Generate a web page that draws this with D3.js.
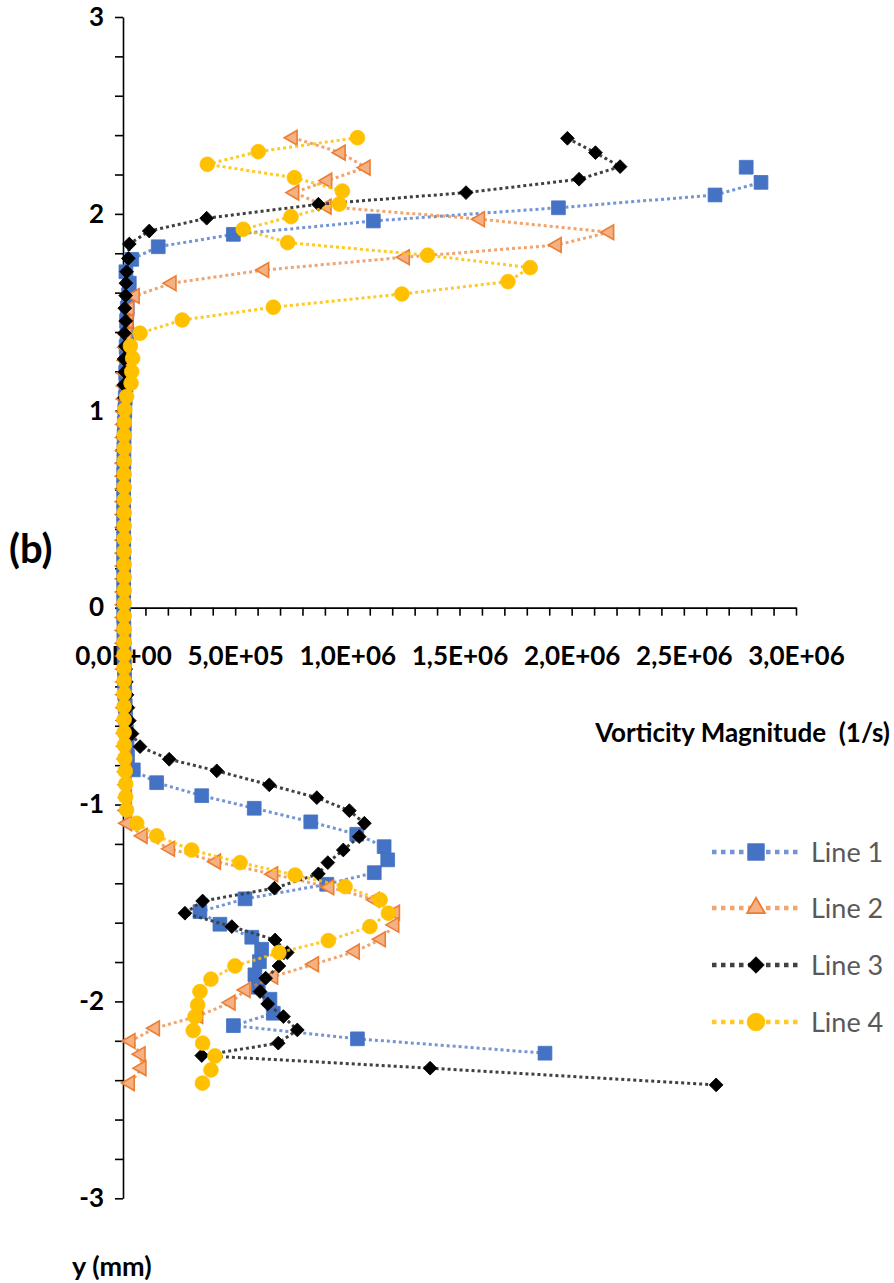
<!DOCTYPE html>
<html>
<head>
<meta charset="utf-8">
<script src="https://cdn.jsdelivr.net/npm/d3@7"></script>
<style>
  html, body { margin: 0; padding: 0; background: #ffffff; }
  svg { display: block; }
  text { font-family: Lato, "Open Sans", "DejaVu Sans", sans-serif; }
</style>
</head>
<body>
<svg id="chart" width="894" height="1283"></svg>
<script>
// ---------------- DATA ----------------
const seriesNames = ["Line 1", "Line 2", "Line 3", "Line 4"];

const xTickLabels = ["0,0E+00", "5,0E+05", "1,0E+06", "1,5E+06", "2,0E+06", "2,5E+06", "3,0E+06"];
const xTickValues = [0, 5e5, 1e6, 1.5e6, 2e6, 2.5e6, 3e6];
const yTickLabels = ["-3", "-2", "-1", "0", "1", "2", "3"];
const yTickValues = [-3, -2, -1, 0, 1, 2, 3];

// Line 1 (y in mm, vorticity in 1e6 1/s)
const line1Y = [2.237, 2.160, 2.096, 2.031, 1.964, 1.896, 1.833, 1.769, 1.706, 1.648, 1.588, 1.521,
  1.456, 1.391, 1.326, 1.261, 1.195, 1.130, 1.065, 1.000, 0.935, 0.870, 0.805, 0.739, 0.674, 0.609,
  0.544, 0.479, 0.414, 0.349, 0.284, 0.218, 0.153, 0.088, 0.023, -0.042, -0.107, -0.172, -0.238,
  -0.303, -0.368, -0.433, -0.498, -0.563, -0.628, -0.694, -0.759,
  -0.824, -0.889, -0.955, -1.019, -1.088, -1.151, -1.214, -1.281, -1.346, -1.405, -1.479, -1.544,
  -1.608, -1.674, -1.735, -1.798, -1.865, -1.928, -1.989, -2.060, -2.123, -2.190, -2.263];
const line1V = [2.778, 2.844, 2.639, 1.941, 1.116, 0.492, 0.157, 0.039, 0.013, 0.028, 0.024, 0.019,
  0.016, 0.018, 0.014, 0.016, 0.012, 0.013, 0.010, 0.008, 0.006, 0.005, 0.004, 0.004, 0.003, 0.003,
  0.003, 0.003, 0.003, 0.003, 0.003, 0.003, 0.003, 0.003, 0.003, 0.003, 0.004, 0.004, 0.005,
  0.006, 0.007, 0.008, 0.010, 0.012, 0.015, 0.018, 0.020,
  0.046, 0.150, 0.351, 0.585, 0.837, 1.042, 1.164, 1.180, 1.120, 0.908, 0.544, 0.343,
  0.432, 0.574, 0.618, 0.608, 0.588, 0.603, 0.655, 0.670, 0.492, 1.045, 1.881];

// Line 2
const line2Y = [2.387, 2.311, 2.235, 2.169, 2.108, 2.037, 1.973, 1.907, 1.842, 1.780, 1.715, 1.648, 1.583,
  1.518, 1.452, 1.387, 1.322, 1.256, 1.191, 1.126, 1.060, 0.995, 0.930, 0.864, 0.799, 0.734, 0.668,
  0.603, 0.538, 0.472, 0.407, 0.342, 0.276, 0.211, 0.146, 0.080, 0.015, -0.050, -0.116, -0.181,
  -0.246, -0.312, -0.377, -0.442, -0.508, -0.573, -0.638, -0.704, -0.769, -0.834, -0.900, -0.965, -1.030,
  -1.095, -1.159, -1.225, -1.290, -1.354, -1.420, -1.484, -1.549, -1.611, -1.684, -1.747, -1.811,
  -1.874, -1.942, -2.006, -2.074, -2.136, -2.201, -2.268, -2.339, -2.415];
const line2V = [0.757, 0.971, 1.082, 0.911, 0.764, 0.908, 1.592, 2.168, 1.934, 1.257, 0.630, 0.217, 0.053,
  0.028, 0.024, 0.018, 0.014, 0.012, 0.010, 0.009, 0.008, 0.007, 0.006, 0.005, 0.005, 0.004, 0.004,
  0.004, 0.004, 0.004, 0.004, 0.004, 0.004, 0.004, 0.004, 0.004, 0.004, 0.004, 0.004, 0.004,
  0.005, 0.005, 0.006, 0.006, 0.007, 0.008, 0.009, 0.010, 0.012, 0.014, 0.016, 0.018, 0.016,
  0.019, 0.088, 0.210, 0.415, 0.670, 0.920, 1.123, 1.213, 1.210, 1.150, 1.034, 0.852,
  0.670, 0.547, 0.480, 0.336, 0.143, 0.034, 0.079, 0.083, 0.031];

// Line 3
const line3Y = [2.384, 2.311, 2.240, 2.176, 2.108, 2.049, 1.978, 1.913, 1.847, 1.774, 1.706, 1.648,
  1.585, 1.521, 1.456, 1.394, 1.328, 1.263, 1.197, 1.132, 1.066, 1.000, 0.935, 0.869, 0.804, 0.738,
  0.672, 0.607, 0.541, 0.476, 0.410, 0.344, 0.279, 0.213, 0.148, 0.082, 0.016, -0.049, -0.115,
  -0.181, -0.246, -0.312, -0.377, -0.443, -0.508, -0.574, -0.640,
  -0.706, -0.770, -0.829, -0.900, -0.965, -1.031, -1.095, -1.163, -1.231, -1.295, -1.352, -1.425,
  -1.490, -1.552, -1.620, -1.688, -1.752, -1.820, -1.882, -1.950, -2.013, -2.077, -2.145, -2.212,
  -2.275, -2.339, -2.424];
const line3V = [1.981, 2.106, 2.216, 2.033, 1.529, 0.871, 0.373, 0.117, 0.028, 0.024, 0.016, 0.013,
  0.012, 0.008, 0.012, 0.006, 0.010, 0.005, 0.008, 0.004, 0.006, 0.003, 0.003, 0.002, 0.002, 0.002,
  0.002, 0.002, 0.002, 0.002, 0.002, 0.002, 0.002, 0.002, 0.002, 0.002, 0.002, 0.003, 0.004,
  0.006, 0.008, 0.012, 0.015, 0.018, 0.022, 0.028, 0.040,
  0.076, 0.206, 0.418, 0.652, 0.864, 1.009, 1.076, 1.053, 0.982, 0.913, 0.871, 0.675,
  0.355, 0.276, 0.485, 0.678, 0.732, 0.695, 0.636, 0.611, 0.645, 0.715, 0.777, 0.692,
  0.351, 1.369, 2.644];

// Line 4
const line4Y = [2.387, 2.316, 2.252, 2.184, 2.116, 2.050, 1.986, 1.922, 1.854, 1.790, 1.727, 1.656,
  1.593, 1.526, 1.461, 1.394, 1.329, 1.267, 1.199, 1.140, 1.072,
  1.006, 0.941, 0.875, 0.810, 0.744, 0.678, 0.613, 0.547, 0.482, 0.416, 0.350, 0.285, 0.219, 0.154,
  0.088, 0.022, -0.043, -0.109, -0.174, -0.240, -0.306, -0.371, -0.437, -0.502, -0.568, -0.634,
  -0.699, -0.765, -0.830, -0.896, -0.961, -1.027,
  -1.095, -1.159, -1.231, -1.295, -1.358, -1.417, -1.484, -1.552, -1.620, -1.691, -1.752, -1.820,
  -1.887, -1.950, -2.018, -2.077, -2.148, -2.212, -2.277, -2.348, -2.415];
const line4V = [1.045, 0.603, 0.376, 0.764, 0.978, 0.964, 0.749, 0.536, 0.734, 1.358, 1.815, 1.716,
  1.243, 0.670, 0.264, 0.076, 0.033, 0.043, 0.039, 0.036, 0.016,
  0.008, 0.006, 0.005, 0.005, 0.005, 0.005, 0.005, 0.005, 0.005, 0.005, 0.005, 0.005, 0.005, 0.005,
  0.005, 0.005, 0.005, 0.005, 0.005, 0.005, 0.005, 0.005, 0.005, 0.005, 0.005, 0.005,
  0.006, 0.008, 0.010, 0.012, 0.012, 0.016,
  0.061, 0.150, 0.306, 0.522, 0.767, 0.990, 1.146, 1.183, 1.101, 0.915, 0.695, 0.499,
  0.392, 0.343, 0.333, 0.321, 0.313, 0.355, 0.410, 0.392, 0.354];

const valueUnit = 1e6; // values above are in units of 1e6 1/s

// ---------------- CHART ----------------
const svg = d3.select("#chart");
const x = d3.scaleLinear().domain([0, 3e6]).range([123, 796]);
const y = d3.scaleLinear().domain([-3, 3]).range([1198.3, 17]);

const tickFont = "26px";

// Y axis (ticks every 0.2, labels at integers)
const yMinor = d3.range(-15, 16).map(i => i / 5);
const yAxis = d3.axisLeft(y).tickValues(yMinor).tickSize(8).tickSizeOuter(0)
  .tickFormat(d => {
    const idx = yTickValues.findIndex(v => Math.abs(v - d) < 1e-9);
    return idx >= 0 ? yTickLabels[idx] : "";
  }).tickPadding(11);
const gy = svg.append("g").attr("transform", `translate(${x(0)},0)`).call(yAxis);
gy.select(".domain").attr("stroke", "#000").attr("stroke-width", 1.6);
gy.selectAll(".tick line").attr("stroke", "#000").attr("stroke-width", 1.6);
gy.selectAll(".tick text").attr("fill", "#000").style("font-family", "Lato, sans-serif")
  .style("font-weight", "700").style("font-size", tickFont);

// X axis at y = 0 (ticks every 1e5, labels every 5e5)
const xMinor = d3.range(0, 31).map(i => i * 1e5);
const xAxis = d3.axisBottom(x).tickValues(xMinor).tickSize(8).tickSizeOuter(0)
  .tickFormat(d => {
    const idx = xTickValues.findIndex(v => Math.abs(v - d) < 1);
    return idx >= 0 ? xTickLabels[idx] : "";
  }).tickPadding(31);
const gx = svg.append("g").attr("transform", `translate(0,${y(0)})`).call(xAxis);
gx.select(".domain").attr("stroke", "#000").attr("stroke-width", 1.6);
gx.selectAll(".tick line").attr("stroke", "#000").attr("stroke-width", 1.6);
gx.selectAll(".tick text").attr("fill", "#000").style("font-family", "Lato, sans-serif")
  .style("font-weight", "700").style("font-size", tickFont);

// Series styles
const styles = [
  { line: "#4472C4", lineOpacity: 0.75, symbol: "square", fill: "#4472C4", stroke: "#4472C4" },
  { line: "#ED7D31", lineOpacity: 0.7, symbol: "triangle", fill: "#F4B183", stroke: "#ED7D31" },
  { line: "#404040", lineOpacity: 1, symbol: "diamond", fill: "#000000", stroke: "#000000" },
  { line: "#FFC000", lineOpacity: 0.85, symbol: "circle", fill: "#FFC000", stroke: "#FFC000" }
];
const seriesData = [
  d3.zip(line1V, line1Y), d3.zip(line2V, line2Y), d3.zip(line3V, line3Y), d3.zip(line4V, line4Y)
];

function symbolPath(kind, scale) {
  const s = scale || 1;
  if (kind === "square") return d3.symbol(d3.symbolSquare, 190 * s * s)();
  if (kind === "diamond") return d3.symbol(d3.symbolSquare, 95 * s * s)();
  if (kind === "circle") return d3.symbol(d3.symbolCircle, 170 * s * s)();
  if (kind === "triangle") return d3.symbol(d3.symbolTriangle, 95 * s * s)();
}
function symbolRotate(kind, legend) {
  if (kind === "diamond") return 45;
  if (kind === "triangle") return legend ? 0 : -90;
  return 0;
}

const lineGen = d3.line().x(d => x(d[0] * valueUnit)).y(d => y(d[1]));

seriesData.forEach((data, i) => {
  const st = styles[i];
  const g = svg.append("g").attr("class", "series");
  g.append("path").datum(data)
    .attr("d", lineGen)
    .attr("fill", "none")
    .attr("stroke", st.line)
    .attr("stroke-opacity", st.lineOpacity)
    .attr("stroke-width", 3)
    .attr("stroke-dasharray", "3,3");
  g.selectAll("path.mk").data(data).join("path")
    .attr("class", "mk")
    .attr("d", symbolPath(st.symbol))
    .attr("transform", d => `translate(${x(d[0] * valueUnit)},${y(d[1])}) rotate(${symbolRotate(st.symbol)})`)
    .attr("fill", st.fill)
    .attr("stroke", st.stroke)
    .attr("stroke-width", st.symbol === "triangle" ? 1.6 : 0.8);
});

// Legend
const legendY = [852, 908, 965, 1022];
const legend = svg.append("g");
seriesNames.forEach((name, i) => {
  const st = styles[i];
  const ly = legendY[i];
  legend.append("line")
    .attr("x1", 712).attr("x2", 799).attr("y1", ly).attr("y2", ly)
    .attr("stroke", st.line).attr("stroke-opacity", st.lineOpacity)
    .attr("stroke-width", 4.5).attr("stroke-dasharray", "4.5,4.5");
  legend.append("path")
    .attr("d", symbolPath(st.symbol, 1.2))
    .attr("transform", `translate(756,${ly}) rotate(${symbolRotate(st.symbol, true)})`)
    .attr("fill", st.fill).attr("stroke", st.stroke)
    .attr("stroke-width", st.symbol === "triangle" ? 1.8 : 0.8);
  legend.append("text")
    .attr("x", 811).attr("y", ly + 10)
    .attr("fill", "#595959")
    .style("font-size", "27px")
    .text(name);
});

// Titles / labels
svg.append("text").attr("x", 9).attr("y", 563)
  .style("font-weight", "700").style("font-size", "40px").attr("fill", "#000").text("(b)");
svg.append("text").attr("x", 890).attr("y", 742).attr("text-anchor", "end")
  .style("font-weight", "700").style("font-size", "26px").style("white-space", "pre")
  .attr("fill", "#000").text("Vorticity Magnitude  (1/s)");
svg.append("text").attr("x", 72).attr("y", 1276)
  .style("font-weight", "700").style("font-size", "27px").attr("fill", "#000").text("y (mm)");
</script>
</body>
</html>
